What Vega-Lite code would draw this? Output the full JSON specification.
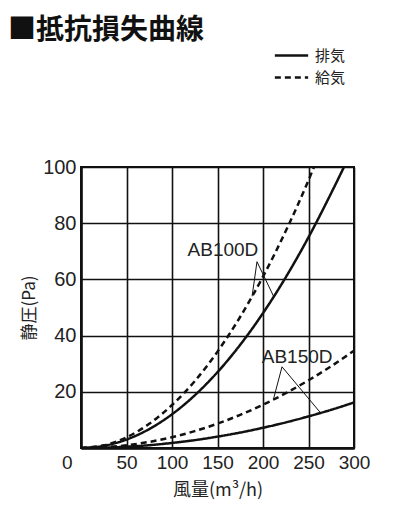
{
  "$schema": "https://vega.github.io/schema/vega-lite/v6.json",
  "width": 273,
  "height": 281,
  "autosize": {"type": "none"},
  "padding": {"left": 81, "top": 167, "right": 57, "bottom": 71},
  "background": "white",
  "title": {
    "text": "■抵抗損失曲線",
    "anchor": "start",
    "frame": "group",
    "orient": "top",
    "font": "Noto Sans CJK JP",
    "fontSize": 28,
    "fontWeight": "bold",
    "color": "#111",
    "baseline": "top",
    "offset": 0,
    "dx": -73,
    "dy": 0
  },
  "config": {
    "view": {"stroke": "#111", "strokeWidth": 2},
    "axis": {
      "grid": true,
      "gridColor": "#111",
      "gridWidth": 1.6,
      "gridOpacity": 1,
      "domainColor": "#111",
      "domainWidth": 2.5,
      "ticks": false,
      "labelFont": "Liberation Sans",
      "labelColor": "#222",
      "titleFont": "Noto Sans CJK JP",
      "titleColor": "#222",
      "titleFontWeight": "normal"
    }
  },
  "datasets": {
    "curves": [
      {"model": "AB100D", "kind": "排気", "q": 0, "p": 0},
      {"model": "AB100D", "kind": "排気", "q": 25, "p": 0.75},
      {"model": "AB100D", "kind": "排気", "q": 50, "p": 3},
      {"model": "AB100D", "kind": "排気", "q": 75, "p": 6.75},
      {"model": "AB100D", "kind": "排気", "q": 100, "p": 12},
      {"model": "AB100D", "kind": "排気", "q": 125, "p": 18.75},
      {"model": "AB100D", "kind": "排気", "q": 150, "p": 27},
      {"model": "AB100D", "kind": "排気", "q": 175, "p": 36.75},
      {"model": "AB100D", "kind": "排気", "q": 200, "p": 48},
      {"model": "AB100D", "kind": "排気", "q": 225, "p": 60.75},
      {"model": "AB100D", "kind": "排気", "q": 250, "p": 75},
      {"model": "AB100D", "kind": "排気", "q": 275, "p": 90.75},
      {"model": "AB100D", "kind": "排気", "q": 289, "p": 100},
      {"model": "AB100D", "kind": "給気", "q": 0, "p": 0},
      {"model": "AB100D", "kind": "給気", "q": 25, "p": 0.95},
      {"model": "AB100D", "kind": "給気", "q": 50, "p": 3.8},
      {"model": "AB100D", "kind": "給気", "q": 75, "p": 8.6},
      {"model": "AB100D", "kind": "給気", "q": 100, "p": 15.3},
      {"model": "AB100D", "kind": "給気", "q": 125, "p": 23.8},
      {"model": "AB100D", "kind": "給気", "q": 150, "p": 34.3},
      {"model": "AB100D", "kind": "給気", "q": 175, "p": 46.7},
      {"model": "AB100D", "kind": "給気", "q": 200, "p": 61},
      {"model": "AB100D", "kind": "給気", "q": 225, "p": 77.2},
      {"model": "AB100D", "kind": "給気", "q": 250, "p": 95.3},
      {"model": "AB100D", "kind": "給気", "q": 256, "p": 100},
      {"model": "AB150D", "kind": "排気", "q": 0, "p": 0},
      {"model": "AB150D", "kind": "排気", "q": 25, "p": 0.11},
      {"model": "AB150D", "kind": "排気", "q": 50, "p": 0.45},
      {"model": "AB150D", "kind": "排気", "q": 75, "p": 1.0},
      {"model": "AB150D", "kind": "排気", "q": 100, "p": 1.8},
      {"model": "AB150D", "kind": "排気", "q": 125, "p": 2.8},
      {"model": "AB150D", "kind": "排気", "q": 150, "p": 4.05},
      {"model": "AB150D", "kind": "排気", "q": 175, "p": 5.5},
      {"model": "AB150D", "kind": "排気", "q": 200, "p": 7.2},
      {"model": "AB150D", "kind": "排気", "q": 225, "p": 9.1},
      {"model": "AB150D", "kind": "排気", "q": 250, "p": 11.25},
      {"model": "AB150D", "kind": "排気", "q": 275, "p": 13.6},
      {"model": "AB150D", "kind": "排気", "q": 300, "p": 16.2},
      {"model": "AB150D", "kind": "給気", "q": 0, "p": 0},
      {"model": "AB150D", "kind": "給気", "q": 25, "p": 0.24},
      {"model": "AB150D", "kind": "給気", "q": 50, "p": 0.96},
      {"model": "AB150D", "kind": "給気", "q": 75, "p": 2.17},
      {"model": "AB150D", "kind": "給気", "q": 100, "p": 3.85},
      {"model": "AB150D", "kind": "給気", "q": 125, "p": 6.0},
      {"model": "AB150D", "kind": "給気", "q": 150, "p": 8.66},
      {"model": "AB150D", "kind": "給気", "q": 175, "p": 11.8},
      {"model": "AB150D", "kind": "給気", "q": 200, "p": 15.4},
      {"model": "AB150D", "kind": "給気", "q": 225, "p": 19.5},
      {"model": "AB150D", "kind": "給気", "q": 250, "p": 24.1},
      {"model": "AB150D", "kind": "給気", "q": 275, "p": 29.1},
      {"model": "AB150D", "kind": "給気", "q": 300, "p": 34.65}
    ],
    "leaders": [
      {"grp": "a1", "o": 1, "q": 188, "p": 54},
      {"grp": "a1", "o": 2, "q": 193.4, "p": 66.3},
      {"grp": "a1", "o": 3, "q": 211.6, "p": 54},
      {"grp": "b1", "o": 1, "q": 211.6, "p": 17.5},
      {"grp": "b1", "o": 2, "q": 220.9, "p": 28.9},
      {"grp": "b1", "o": 3, "q": 263, "p": 12.6}
    ],
    "labels": [
      {"name": "AB100D", "q": 156, "p": 70.5},
      {"name": "AB150D", "q": 237.5, "p": 32.5}
    ]
  },
  "layer": [
    {
      "data": {"name": "curves"},
      "mark": {"type": "line", "color": "#111", "strokeWidth": 2.5, "interpolate": "monotone", "clip": true},
      "encoding": {
        "x": {
          "field": "q", "type": "quantitative",
          "scale": {"domain": [0, 300], "nice": false},
          "axis": {
            "values": [0, 50, 100, 150, 200, 250, 300],
            "title": "風量(m³/h)",
            "titleFontSize": 18,
            "titlePadding": 9,
            "labelFontSize": 19,
            "labelPadding": 5,
            "labelAlign": {"condition": {"test": "datum.value == 0", "value": "right"}, "value": "center"},
            "labelOffset": {"condition": {"test": "datum.value == 0", "value": -9}, "value": 0},
            "labelFlush": false
          }
        },
        "y": {
          "field": "p", "type": "quantitative",
          "scale": {"domain": [0, 100], "nice": false},
          "axis": {
            "values": [0, 20, 40, 60, 80, 100],
            "labelExpr": "datum.value == 0 ? '' : datum.label",
            "title": "静圧(Pa)",
            "titleFontSize": 17,
            "titlePadding": 4,
            "labelFontSize": 20,
            "labelPadding": 5,
            "labelFlush": false
          }
        },
        "detail": {"field": "model"},
        "strokeDash": {
          "field": "kind", "type": "nominal",
          "scale": {"domain": ["排気", "給気"], "range": [[1, 0], [6, 4]]},
          "legend": {
            "title": null,
            "orient": "none",
            "legendX": 200,
            "legendY": -122,
            "symbolType": "M-1.85,0H1.85",
            "symbolStrokeColor": "#111",
            "symbolStrokeWidth": 2.5,
            "symbolSize": 324,
            "labelFont": "Noto Sans CJK JP",
            "labelFontSize": 15,
            "labelColor": "#222",
            "rowPadding": 3,
            "labelOffset": 13
          }
        }
      }
    },
    {
      "data": {"name": "leaders"},
      "mark": {"type": "line", "color": "#111", "strokeWidth": 1},
      "encoding": {
        "x": {"field": "q", "type": "quantitative"},
        "y": {"field": "p", "type": "quantitative"},
        "detail": {"field": "grp"},
        "order": {"field": "o"}
      }
    },
    {
      "data": {"name": "labels"},
      "mark": {"type": "text", "font": "Liberation Sans", "fontSize": 19, "color": "#222", "baseline": "middle", "align": "center"},
      "encoding": {
        "x": {"field": "q", "type": "quantitative"},
        "y": {"field": "p", "type": "quantitative"},
        "text": {"field": "name"}
      }
    }
  ]
}
